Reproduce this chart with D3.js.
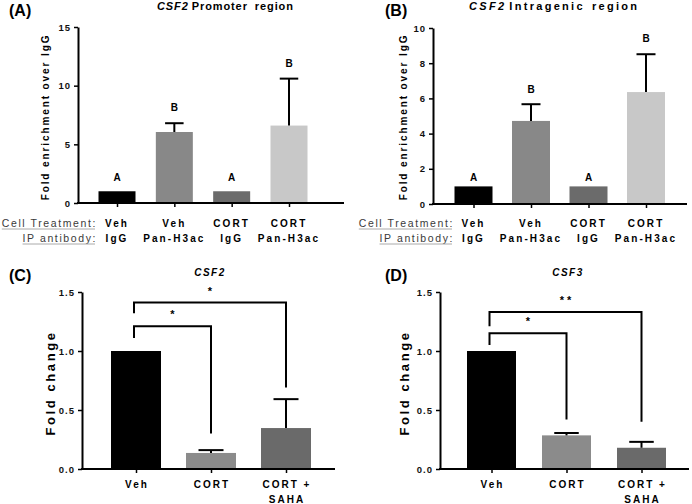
<!DOCTYPE html>
<html><head><meta charset="utf-8">
<script src="https://cdnjs.cloudflare.com/ajax/libs/d3/7.8.5/d3.min.js"></script>
<style>
body{margin:0;background:#fff;}
svg{display:block;font-family:"Liberation Sans",Arial,sans-serif;}
</style></head>
<body><svg id="c" width="692" height="504"></svg>
<script>
// ---------- DATA ----------
const treatments = ["Veh", "Veh", "CORT", "CORT"];
const antibodies = ["IgG", "Pan-H3ac", "IgG", "Pan-H3ac"];
const promoterMeans = [1.0, 6.05, 1.0, 6.6];
const promoterErr = [0, 0.75, 0, 4.0];
const promoterLetters = ["A", "B", "A", "B"];
const promoterLetterY = [2.2, 8.1, 2.2, 11.9];
const promoterTicks = [0, 5, 10, 15];

const intragenicMeans = [1.0, 4.72, 1.0, 6.36];
const intragenicErr = [0, 0.95, 0, 2.15];
const intragenicLetters = ["A", "B", "A", "B"];
const intragenicLetterY = [1.48, 6.53, 1.48, 9.38];
const intragenicTicks = [0, 2, 4, 6, 8, 10];

const fcCategories = [["Veh"], ["CORT"], ["CORT +", "SAHA"]];
const csf2Means = [1.0, 0.136, 0.347];
const csf2Err = [0, 0.024, 0.245];
const csf3Means = [1.0, 0.285, 0.18];
const csf3Err = [0, 0.02, 0.05];
const fcTicks = [0, 0.5, 1.0, 1.5];
// brackets: [fromIndex, toIndex, barValue, leftEnd, rightEnd, label]
const csf2Brackets = [[0, 1, 1.21, 1.11, 0.30, "*"], [0, 2, 1.41, 1.32, 0.69, "*"]];
const csf3Brackets = [[0, 1, 1.15, 1.05, 0.42, "*"], [0, 2, 1.33, 1.21, 0.40, "* *"]];

const colorsAB = ["#000000", "#888888", "#6b6b6b", "#c8c8c8"];
const colorsCD = ["#000000", "#8b8b8b", "#6a6a6a"];

// ---------- DRAW ----------
const svg = d3.select("#c");

function panel(o) {
  const g = svg.append("g");
  const y = d3.scaleLinear().domain(o.yDomain).range([o.y0, o.y1]);
  const x = d3.scalePoint().domain(d3.range(o.means.length)).range(o.xr);
  g.selectAll("rect.bar").data(o.means).join("rect")
    .attr("x", (d, i) => x(i) - o.bw / 2).attr("width", o.bw)
    .attr("y", d => y(d)).attr("height", d => y(0) - y(d))
    .attr("fill", (d, i) => o.colors[i]);
  o.means.forEach((m, i) => {
    if (!o.err[i]) return;
    g.append("line").attr("x1", x(i)).attr("x2", x(i)).attr("y1", y(m)).attr("y2", y(m + o.err[i]))
      .attr("stroke", "#000").attr("stroke-width", 2);
    g.append("line").attr("x1", x(i) - o.bw / 4).attr("x2", x(i) + o.bw / 4)
      .attr("y1", y(m + o.err[i])).attr("y2", y(m + o.err[i]))
      .attr("stroke", "#000").attr("stroke-width", 2);
  });
  const ya = g.append("g").attr("transform", `translate(${o.ax},0)`)
    .call(d3.axisLeft(y).tickValues(o.ticks).tickSize(4).tickSizeOuter(0).tickPadding(3)
      .tickFormat(o.fmt));
  ya.select(".domain").attr("stroke-width", 2);
  ya.selectAll(".tick line").attr("stroke-width", 1.5);
  ya.selectAll("text").attr("font-size", 9.5).attr("font-weight", "bold")
    .attr("letter-spacing", "1px").attr("fill", "#111");
  g.append("line").attr("x1", o.ax - 1).attr("x2", o.xEnd).attr("y1", y(0)).attr("y2", y(0))
    .attr("stroke", "#000").attr("stroke-width", 2);
  const xa = g.append("g").attr("transform", `translate(0,${y(0)})`)
    .call(d3.axisBottom(x).tickSize(4).tickSizeOuter(0).tickFormat(""));
  xa.select(".domain").remove();
  xa.selectAll(".tick line").attr("stroke-width", 1.5);
  if (o.letters) {
    g.selectAll("text.let").data(o.letters).join("text")
      .attr("x", (d, i) => x(i)).attr("y", (d, i) => y(o.letterY[i]))
      .attr("dy", "0.35em").attr("text-anchor", "middle")
      .attr("font-size", 10).attr("font-weight", "bold").text(d => d);
  }
  if (o.brackets) {
    o.brackets.forEach(b => {
      const xl = x(b[0]) - 2, xr = x(b[1]);
      g.append("path")
        .attr("d", `M${xl},${y(b[3])}V${y(b[2])}H${xr}V${y(b[4])}`)
        .attr("fill", "none").attr("stroke", "#000").attr("stroke-width", 2);
      g.append("text").attr("x", (xl + xr) / 2).attr("y", y(b[2]) - 8)
        .attr("text-anchor", "middle").attr("font-size", 11).attr("font-weight", "bold")
        .text(b[5]);
    });
  }
  g.append("text").attr("x", o.labX).attr("y", o.labY).attr("font-size", 16)
    .attr("font-weight", "bold").text(o.label);
  const t = g.append("text").attr("x", o.titleX).attr("y", o.titleY)
    .attr("text-anchor", o.titleAnchor)
    .attr("font-size", o.titleSize).attr("font-weight", "bold").attr("letter-spacing", o.titleLS);
  t.append("tspan").attr("font-style", "italic").text(o.gene);
  if (o.rest) o.rest.forEach((w, k) => t.append("tspan").attr("dx", k === 0 ? 3 : 7).text(w));
  g.append("text").attr("transform", `translate(${o.ylabX},${o.ylabY}) rotate(-90)`)
    .attr("text-anchor", "middle").attr("dy", "0.35em")
    .attr("font-size", o.ylabSize).attr("font-weight", "bold")
    .attr("letter-spacing", o.ylabLS).text(o.ylab);
  return { g, x, y };
}

function abRows(p, rowX) {
  const { g, x } = p;
  const rows = [[treatments, "Cell Treatment:", 227], [antibodies, "IP antibody:", 242]];
  rows.forEach(r => {
    const lab = g.append("text").attr("x", rowX).attr("y", r[2]).attr("text-anchor", "end")
      .attr("font-size", 10.5).attr("letter-spacing", "1.6px").attr("fill", "#3a3a3a")
      .text(r[1]);
    const bb = lab.node().getBBox();
    g.append("line").attr("x1", bb.x).attr("x2", bb.x + bb.width - 2)
      .attr("y1", r[2] + 2).attr("y2", r[2] + 2).attr("stroke", "#aaa").attr("stroke-width", 1);
    g.selectAll(null).data(r[0]).join("text")
      .attr("x", (d, i) => x(i)).attr("y", r[2]).attr("text-anchor", "middle")
      .attr("font-size", 10).attr("font-weight", "bold").attr("letter-spacing", "2.1px")
      .text(d => d);
  });
}

function cdLabels(p) {
  const { g, x } = p;
  fcCategories.forEach((lines, i) => {
    lines.forEach((s, j) => {
      g.append("text").attr("x", x(i) + 1).attr("y", 488 + j * 15).attr("text-anchor", "middle")
        .attr("font-size", 10).attr("font-weight", "bold").attr("letter-spacing", "2px").text(s);
    });
  });
}

const fmtInt = d3.format("d"), fmt1 = d3.format(".1f");

const pA = panel({ means: promoterMeans, err: promoterErr, colors: colorsAB, yDomain: [0, 15],
  ticks: promoterTicks, fmt: fmtInt, y0: 203, y1: 27, ax: 78, xEnd: 344, xr: [117, 289], bw: 37,
  letters: promoterLetters, letterY: promoterLetterY, label: "(A)", labX: 9, labY: 16,
  gene: "CSF2", rest: ["Promoter", "region"], titleX: 157, titleY: 10, titleSize: 11,
  titleAnchor: "start", titleLS: "0.9px",
  ylab: "Fold enrichment over IgG", ylabX: 45, ylabY: 117, ylabSize: 10, ylabLS: "1.9px" });
abRows(pA, 97);

const pB = panel({ means: intragenicMeans, err: intragenicErr, colors: colorsAB, yDomain: [0, 10],
  ticks: intragenicTicks, fmt: fmtInt, y0: 204, y1: 28, ax: 433, xEnd: 687, xr: [473.5, 646], bw: 38,
  letters: intragenicLetters, letterY: intragenicLetterY, label: "(B)", labX: 385, labY: 16,
  gene: "CSF2", rest: ["Intragenic", "region"], titleX: 469, titleY: 10, titleSize: 11,
  titleAnchor: "start", titleLS: "2.3px",
  ylab: "Fold enrichment over IgG", ylabX: 403, ylabY: 117, ylabSize: 10, ylabLS: "1.9px" });
abRows(pB, 454);

const pC = panel({ means: csf2Means, err: csf2Err, colors: colorsCD, yDomain: [0, 1.5],
  ticks: fcTicks, fmt: fmt1, y0: 469, y1: 292, ax: 82, xEnd: 335, xr: [136, 286], bw: 50,
  brackets: csf2Brackets, label: "(C)", labX: 9, labY: 281,
  gene: "CSF2", rest: null, titleX: 210, titleY: 276, titleSize: 10,
  titleAnchor: "middle", titleLS: "1.5px",
  ylab: "Fold change", ylabX: 50, ylabY: 383, ylabSize: 13, ylabLS: "2.6px" });
cdLabels(pC);

const pD = panel({ means: csf3Means, err: csf3Err, colors: colorsCD, yDomain: [0, 1.5],
  ticks: fcTicks, fmt: fmt1, y0: 469, y1: 292, ax: 440, xEnd: 689, xr: [491.5, 641.5], bw: 49,
  brackets: csf3Brackets, label: "(D)", labX: 385, labY: 281,
  gene: "CSF3", rest: null, titleX: 568, titleY: 276, titleSize: 10,
  titleAnchor: "middle", titleLS: "1.5px",
  ylab: "Fold change", ylabX: 404, ylabY: 383, ylabSize: 13, ylabLS: "2.6px" });
cdLabels(pD);
</script></body></html>
